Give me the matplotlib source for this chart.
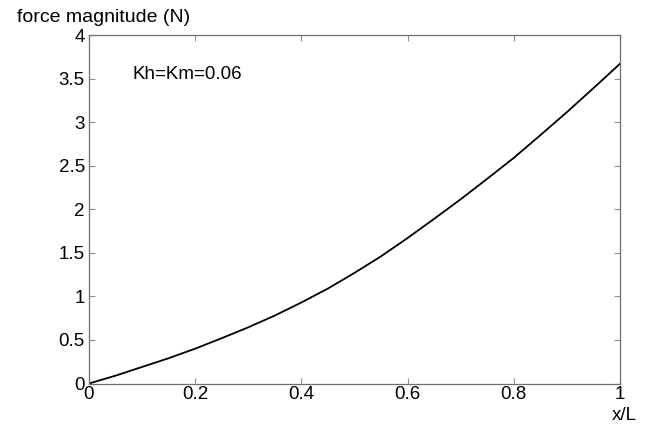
import matplotlib
matplotlib.use("Agg")
import matplotlib.pyplot as plt

x_pos = [0.0, 0.05, 0.1, 0.15, 0.2, 0.25, 0.3, 0.35, 0.4, 0.45, 0.5,
         0.55, 0.6, 0.65, 0.7, 0.75, 0.8, 0.85, 0.9, 0.95, 1.0]
force = [0.0, 0.09, 0.19, 0.29, 0.40, 0.52, 0.645, 0.78, 0.93, 1.09, 1.27,
         1.46, 1.67, 1.89, 2.115, 2.35, 2.59, 2.85, 3.115, 3.39, 3.67]
x_ticks = [0, 0.2, 0.4, 0.6, 0.8, 1]
x_ticklabels = ["0", "0.2", "0.4", "0.6", "0.8", "1"]
y_ticks = [0, 0.5, 1, 1.5, 2, 2.5, 3, 3.5, 4]
y_ticklabels = ["0", "0.5", "1", "1.5", "2", "2.5", "3", "3.5", "4"]

plt.rcParams['font.family'] = ['Liberation Sans', 'DejaVu Sans']

fig = plt.figure(figsize=(6.57, 4.28), dpi=100)
ax = fig.add_axes([89/657, (428-383.5)/428, (620-89)/657, (383.5-35)/428])

ax.plot(x_pos, force, color='black', lw=1.3, solid_joinstyle='round')
ax.set_xlim(0, 1)
ax.set_ylim(0, 4)
ax.set_xticks(x_ticks)
ax.set_xticklabels(x_ticklabels)
ax.set_yticks(y_ticks)
ax.set_yticklabels(y_ticklabels)

spine_col = '#6e6e6e'
for s in ax.spines.values():
    s.set_color(spine_col)
    s.set_linewidth(0.9)
ax.tick_params(direction='in', length=4, width=0.8, color='#909090',
               top=True, right=True, labelsize=13.5, labelcolor='black', pad=2)
ax.tick_params(axis='y', pad=3)

ax.text(0.081, 3.50, "Kh=Km=0.06", fontsize=13.5, va='baseline', ha='left')
fig.text(17/657, 1 - 17/428, "force magnitude (N)", fontsize=14, ha='left', va='center')
fig.text(624/657, 1 - 416/428, "x/L", fontsize=13.5, ha='center', va='center')

fig.savefig("out.png", dpi=100)
